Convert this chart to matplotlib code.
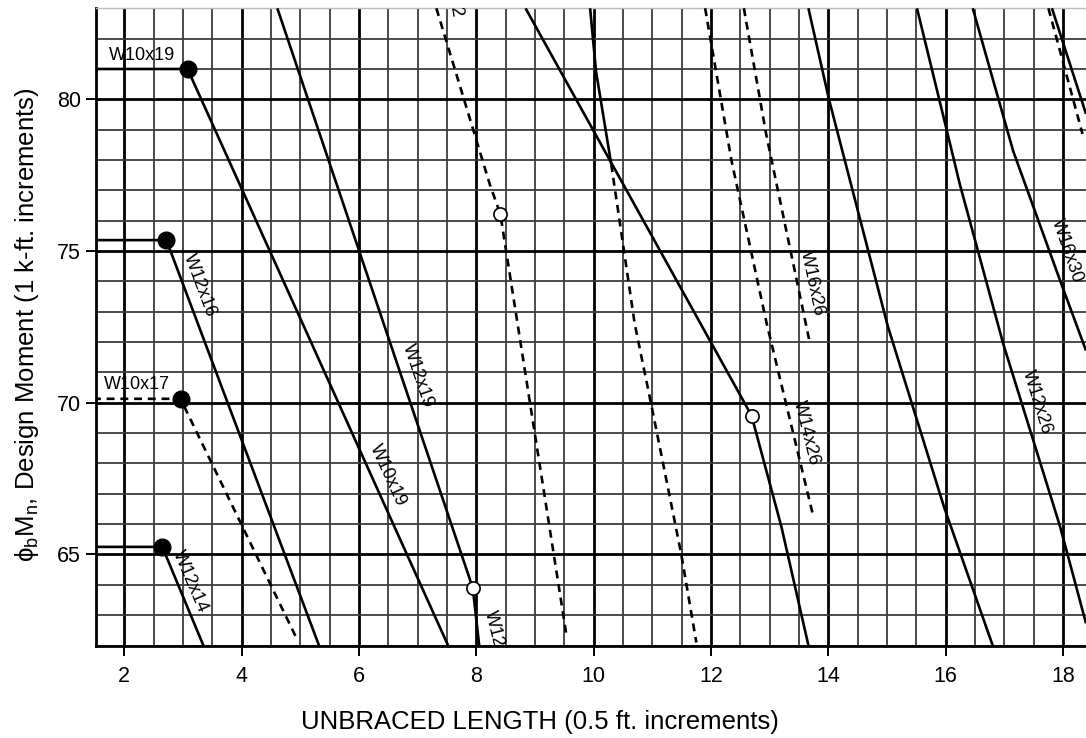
import matplotlib
matplotlib.use("Agg")
import matplotlib.pyplot as plt
from matplotlib import font_manager as fm
from matplotlib.ticker import MultipleLocator

# ---------------- data ----------------
x_tick_values = [2, 4, 6, 8, 10, 12, 14, 16, 18]
y_tick_values = [65, 70, 75, 80]

# solid design curves (unbraced length, design moment)
w10x19_x = [1.0, 3.08, 7.52]
w10x19_y = [81.0, 81.0, 62.0]
w12x16_x = [1.0, 2.72, 5.32]
w12x16_y = [75.36, 75.36, 62.0]
w12x14_x = [1.0, 2.65, 3.35]
w12x14_y = [65.25, 65.25, 62.0]
w12x19_x = [4.61, 7.94, 8.05]
w12x19_y = [83.0, 63.9, 62.0]
curve_d_x = [8.84, 12.69, 13.2, 13.66]
curve_d_y = [83.0, 69.58, 65.91, 62.0]
curve_e_solid_x = [9.94, 10.04, 10.30]
curve_e_solid_y = [83.0, 80.93, 77.86]
curve_h_x = [13.66, 14.01, 15.01, 15.97, 16.80]
curve_h_y = [83.0, 80.0, 72.54, 66.57, 62.0]
w12x26_x = [15.51, 16.02, 16.24, 16.98, 17.95, 18.39]
w12x26_y = [83.0, 78.96, 77.2, 71.94, 65.91, 62.73]
w16x30_x = [16.46, 17.15, 17.95, 18.39]
w16x30_y = [83.0, 78.29, 74.02, 71.72]
curve_l_x = [17.81, 18.39]
curve_l_y = [83.0, 79.52]

# dashed design curves
w10x17_x = [1.0, 2.96, 4.96]
w10x17_y = [70.13, 70.13, 62.15]
curve_2_x = [7.32, 8.23, 8.41, 9.54]
curve_2_y = [83.0, 77.2, 76.22, 62.3]
curve_e_dash_x = [10.30, 10.45, 10.70, 10.99, 11.49, 11.75]
curve_e_dash_y = [77.86, 75.89, 72.6, 69.86, 65.04, 62.1]
w14x26_x = [11.90, 12.35, 12.95, 13.75]
w14x26_y = [83.0, 77.97, 72.6, 66.2]
w16x26_x = [12.56, 12.94, 13.67]
w16x26_y = [83.0, 78.85, 72.1]
curve_k_x = [17.75, 18.33]
curve_k_y = [83.0, 78.86]

# Lp (filled) and Lr (open) points
lp_x = [3.08, 2.72, 2.96, 2.65]
lp_y = [81.0, 75.36, 70.13, 65.25]
lr_x = [7.94, 8.41, 12.69]
lr_y = [63.9, 76.22, 69.58]

# curve labels: text, x, y, rotation
label_text = ["W10x19", "W10x17", "W12x16", "W12x14", "W12x19", "W10x19",
              "W12", "W14x26", "W16x26", "W12x26", "W16x30", "2"]
label_x = [2.31, 2.21, 3.29, 3.12, 7.00, 6.49, 8.29, 13.63, 13.73, 17.55, 18.06, 7.64]
label_y = [81.44, 70.59, 73.87, 64.10, 70.90, 67.60, 62.55, 69.0, 73.92, 70.01, 75.01, 82.9]
label_rot = [0, 0, -69.5, -66.7, -71.3, -65.5, -76, -76, -78, -72.8, -71, -80]

x_label = "UNBRACED LENGTH (0.5 ft. increments)"
y_label = r"$\mathregular{\phi_bM_n}$, Design Moment (1 k-ft. increments)"

# ---------------- fonts ----------------
names = {f.name for f in fm.fontManager.ttflist}
narrow = None
for cand in ["Liberation Sans Narrow", "Arial Narrow"]:
    if cand in names:
        narrow = cand
        break
base = "Liberation Sans"
plt.rcParams["font.family"] = [base, "DejaVu Sans"]
plt.rcParams["mathtext.default"] = "regular"
if narrow:
    axis_font = [narrow, "DejaVu Sans"]
    axis_size = 22.5
else:
    axis_font = [base, "DejaVu Sans"]
    axis_size = 18.5

# ---------------- figure ----------------
W, H = 1086, 738
fig = plt.figure(figsize=(W / 100, H / 100), dpi=100)
ax = fig.add_axes([96 / W, 1 - 645.5 / H, 1 - 96 / W, (645.5 - 8.3) / H])
ax.set_xlim(1.52, 18.39)
ax.set_ylim(62, 83)

ax.set_xticks(x_tick_values)
ax.set_yticks(y_tick_values)
ax.xaxis.set_minor_locator(MultipleLocator(0.5))
ax.yaxis.set_minor_locator(MultipleLocator(1))
ax.grid(which="major", color="black", lw=2.0, zorder=1)
ax.grid(which="minor", color="#3c3c3c", lw=1.3, zorder=1)
ax.set_axisbelow(True)
ax.tick_params(which="minor", length=0)
ax.tick_params(which="major", direction="out", length=7, width=1.4,
               labelsize=15.5, colors="black")
ax.tick_params(axis="x", pad=8)
ax.tick_params(axis="y", pad=4)

for s in ["left", "bottom"]:
    ax.spines[s].set_linewidth(2.0)
    ax.spines[s].set_color("black")
ax.spines["right"].set_visible(False)
ax.spines["top"].set_color("#bbbbbb")
ax.spines["top"].set_linewidth(1.0)

lw = 1.9
solid = [(w10x19_x, w10x19_y), (w12x16_x, w12x16_y), (w12x14_x, w12x14_y),
         (w12x19_x, w12x19_y), (curve_d_x, curve_d_y),
         (curve_e_solid_x, curve_e_solid_y), (curve_h_x, curve_h_y),
         (w12x26_x, w12x26_y), (w16x30_x, w16x30_y), (curve_l_x, curve_l_y)]
dashed = [(w10x17_x, w10x17_y), (curve_2_x, curve_2_y),
          (curve_e_dash_x, curve_e_dash_y), (w14x26_x, w14x26_y),
          (w16x26_x, w16x26_y), (curve_k_x, curve_k_y)]
for xs, ys in solid:
    ax.plot(xs, ys, color="black", lw=lw, solid_capstyle="butt", zorder=3)
for xs, ys in dashed:
    ax.plot(xs, ys, color="black", lw=lw, linestyle=(0, (3.0, 2.2)), zorder=3)

ax.plot(lp_x, lp_y, linestyle="none", marker="o", markersize=12,
        color="black", zorder=5)
ax.plot(lr_x, lr_y, linestyle="none", marker="o", markersize=9.5,
        markerfacecolor="white", markeredgecolor="black", markeredgewidth=1.2,
        zorder=5)

for t, lx, ly, r in zip(label_text, label_x, label_y, label_rot):
    ax.text(lx, ly, t, rotation=r, rotation_mode="anchor", ha="center",
            va="center", fontsize=13, color="black", clip_on=True, zorder=4)

fig.text(540 / W, 1 - 722 / H, x_label, ha="center", va="center",
         fontsize=axis_size, family=axis_font)
fig.text(27 / W, 1 - 325 / H, y_label, ha="center", va="center",
         rotation=90, fontsize=axis_size, family=axis_font)

fig.savefig("out.png", dpi=100)
